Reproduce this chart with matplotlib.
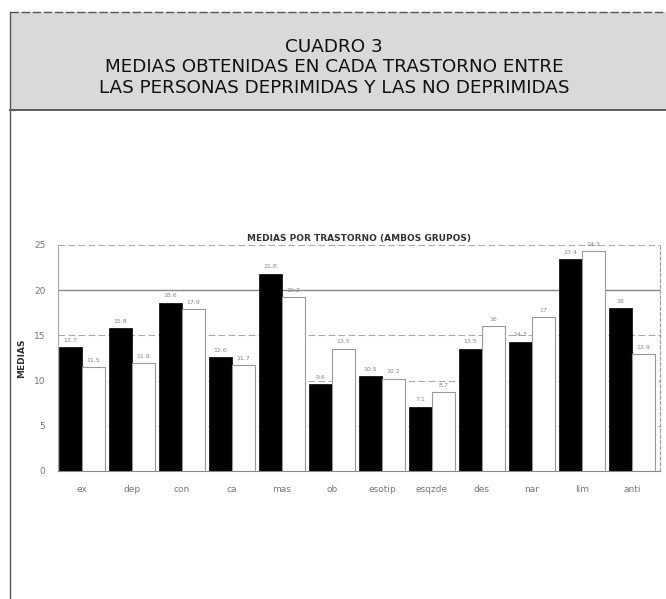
import matplotlib
matplotlib.use("Agg")
import matplotlib.pyplot as plt
from matplotlib.patches import Rectangle
from matplotlib.lines import Line2D
import numpy as np

# Means per disorder for both groups
categories = ["ex", "dep", "con", "ca", "mas", "ob", "esotip", "esqzde",
              "des", "nar", "lim", "anti"]
deprimidos = [13.7, 15.8, 18.6, 12.6, 21.8, 9.6, 10.5, 7.1, 13.5, 14.3, 23.4, 18]
no_deprimidos = [11.5, 11.9, 17.9, 11.7, 19.2, 13.5, 10.2, 8.7, 16.0, 17, 24.3, 12.9]
yticks = [0, 5, 10, 15, 20, 25]

W, H = 666, 599
fig = plt.figure(figsize=(W / 100, H / 100), dpi=100)
fig.patch.set_facecolor("white")

def fx(px):
    return px / W

def fy(py):
    return 1 - py / H

# grey header box with the table caption
fig.patches.append(Rectangle((fx(10), fy(110)), fx(656), fy(12) - fy(110),
                             transform=fig.transFigure, facecolor="#d9d9d9",
                             edgecolor="none", zorder=0))
fig.lines.append(Line2D([fx(10), fx(666)], [fy(12), fy(12)], transform=fig.transFigure,
                        color="#555555", lw=1.0, ls=(0, (6, 2))))
fig.lines.append(Line2D([fx(10), fx(666)], [fy(110), fy(110)], transform=fig.transFigure,
                        color="#444444", lw=1.2))
fig.lines.append(Line2D([fx(10), fx(10)], [fy(12), fy(599)], transform=fig.transFigure,
                        color="#555555", lw=1.0))

header = ["CUADRO 3",
          "MEDIAS OBTENIDAS EN CADA TRASTORNO ENTRE",
          "LAS PERSONAS DEPRIMIDAS Y LAS NO DEPRIMIDAS"]
for i, line in enumerate(header):
    fig.text(fx(334), fy(47 + 20.5 * i), line, ha="center", va="center",
             fontsize=13.2, family="DejaVu Sans", color="#111111")

# bar chart
ax = fig.add_axes([fx(58), fy(471), fx(660) - fx(58), fy(245) - fy(471)])
x = np.arange(len(categories))
bw = 0.46
ax.bar(x - bw / 2, deprimidos, bw, color="black", edgecolor="black", lw=0.5, zorder=3)
ax.bar(x + bw / 2, no_deprimidos, bw, color="white", edgecolor="#999999", lw=0.8, zorder=3)

for xi, v in zip(x, deprimidos):
    ax.text(xi - bw / 2, v + 0.5, f"{v:g}", ha="center", va="bottom",
            fontsize=4.5, color="#888888", zorder=4)
for xi, v in zip(x, no_deprimidos):
    ax.text(xi + bw / 2, v + 0.5, f"{v:g}", ha="center", va="bottom",
            fontsize=4.5, color="#888888", zorder=4)

ax.set_xlim(-0.48, 11.56)
ax.set_ylim(0, 25)
ax.set_yticks(yticks)
ax.set_yticklabels([str(t) for t in yticks], fontsize=6.5, color="#777777")
ax.set_xticks(x)
ax.set_xticklabels(categories, fontsize=6.5, color="#777777")
ax.tick_params(axis="x", length=0, pad=10)
ax.tick_params(axis="y", length=0, pad=9)

for t in [5, 10, 15, 20, 25]:
    ax.axhline(t, color="#888888" if t == 20 else "#aaaaaa", lw=1.0 if t == 20 else 0.8,
               ls="-" if t == 20 else (0, (6, 3)), zorder=1)

ax.spines["left"].set_color("#aaaaaa")
ax.spines["bottom"].set_color("#888888")
ax.spines["top"].set_visible(False)
ax.spines["right"].set_color("#999999")
ax.spines["right"].set_linestyle((0, (3, 2)))

ax.set_ylabel("MEDIAS", fontsize=6.5, fontweight="bold", color="#333333", labelpad=6)
ax.set_title("MEDIAS POR TRASTORNO (AMBOS GRUPOS)", fontsize=6.5, fontweight="bold",
             color="#333333", pad=3)

fig.savefig("out.png", dpi=100)
